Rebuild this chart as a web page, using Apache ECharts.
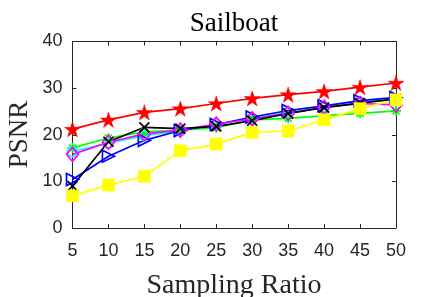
<!DOCTYPE html>
<html>
<head>
<meta charset="utf-8">
<script src="https://cdn.jsdelivr.net/npm/echarts@6/dist/echarts.min.js"></script>
<style>
html,body{margin:0;padding:0;background:#fff;}
#chart{width:438px;height:297px;}
</style>
</head>
<body>
<div id="chart"></div>
<script>
var samplingRatio = [5, 10, 15, 20, 25, 30, 35, 40, 45, 50];
var yTicks = [0, 10, 20, 30, 40];
var greenStar   = [17.2, 19.3, 20.6, 21.0, 21.5, 23.2, 23.5, 24.1, 24.6, 25.1];
var cyanCircle  = [16.4, 18.2, 19.8, 20.9, 22.2, 23.5, 24.8, 26.0, 27.0, 27.6];
var blueTri     = [10.4, 15.4, 18.8, 20.9, 22.2, 23.8, 25.2, 26.2, 27.3, 28.0];
var magDiamond  = [15.8, 18.4, 20.2, 21.0, 22.3, 23.4, 24.6, 25.9, 26.7, 26.4];
var blackX      = [9.0, 18.5, 21.6, 21.3, 21.8, 23.0, 24.6, 25.8, 26.8, 27.7];
var yellowSq    = [6.9, 9.2, 11.1, 16.6, 18.0, 20.5, 20.8, 23.2, 25.6, 27.5];
var redPentagram= [21.2, 23.2, 24.8, 25.6, 26.7, 27.8, 28.6, 29.3, 30.2, 31.1];
var titleText = 'Sailboat';
var xLabelText = 'Sampling Ratio';
var yLabelText = 'PSNR';

function pairs(arr){ return arr.map(function(v,i){ return [samplingRatio[i], v]; }); }

var STAR = 'path://M50,0 L61.23,34.55 L97.55,34.55 L68.17,55.9 L79.39,90.45 L50,69.1 L20.61,90.45 L31.83,55.9 L2.45,34.55 L38.77,34.55 Z';
var XMARK = 'path://M0,0L10,10M10,0L0,10';
var ASTER = 'path://M5,0L5,10M0,5L10,5M1.5,1.5L8.5,8.5M8.5,1.5L1.5,8.5';
var RTRI = 'path://M0,0L10,5L0,10Z';

function mk(name, data, color, symbol, size, filled){
  return {
    name: name, type: 'line', data: pairs(data),
    xAxisIndex: 0, yAxisIndex: 0,
    symbol: symbol, symbolSize: size, symbolKeepAspect: true,
    showAllSymbol: true, animation: false,
    lineStyle: {color: color, width: 1.7},
    itemStyle: filled ? {color: color, borderColor: color, borderWidth: 0.5}
                      : {color: 'rgba(0,0,0,0)', borderColor: color, borderWidth: 1.7},
    emphasis: {disabled: true}
  };
}

var axisCol = '#262626';
var labelFont = {fontFamily: 'Liberation Sans', fontSize: 18, color: axisCol};
var gridPos = {left: 72.5, right: 42, top: 41.5, bottom: 69};

var chart = echarts.init(document.getElementById('chart'), null, {renderer: 'canvas'});
chart.setOption({
  backgroundColor: '#ffffff',
  animation: false,
  grid: gridPos,
  xAxis: [{
    type: 'value', min: 5, max: 50, interval: 5, position: 'bottom',
    axisLine: {show: true, lineStyle: {color: axisCol, width: 1}},
    axisTick: {show: true, inside: true, length: 4, lineStyle: {color: axisCol}},
    axisLabel: Object.assign({margin: 14}, labelFont),
    splitLine: {show: false}
  },{
    type: 'value', min: 5, max: 50, interval: 5, position: 'top',
    axisLine: {show: true, onZero: false, lineStyle: {color: axisCol, width: 1}},
    axisTick: {show: true, inside: true, length: 4, lineStyle: {color: axisCol}},
    axisLabel: {show: false}, splitLine: {show: false}
  }],
  yAxis: [{
    type: 'value', min: 0, max: 40, interval: 10, position: 'left',
    axisLine: {show: true, lineStyle: {color: axisCol, width: 1}},
    axisTick: {show: true, inside: true, length: 4, lineStyle: {color: axisCol}},
    axisLabel: Object.assign({margin: 10, formatter: function(v){ return yTicks.indexOf(v) >= 0 ? String(v) : ''; }}, labelFont),
    splitLine: {show: false}
  },{
    type: 'value', min: 0, max: 40, interval: 10, position: 'right',
    axisLine: {show: true, onZero: false, lineStyle: {color: axisCol, width: 1}},
    axisTick: {show: true, inside: true, length: 4, lineStyle: {color: axisCol}},
    axisLabel: {show: false}, splitLine: {show: false}
  }],
  graphic: [
    {type: 'text', x: 234, y: 24, style: {text: titleText, font: '27px "Liberation Serif"', fill: '#000', align: 'center', verticalAlign: 'middle'}},
    {type: 'text', x: 234, y: 285.5, style: {text: xLabelText, font: '28px "Liberation Serif"', fill: '#262626', align: 'center', verticalAlign: 'middle'}},
    {type: 'text', x: 20, y: 134.5, rotation: Math.PI/2, style: {text: yLabelText, font: '27px "Liberation Serif"', fill: '#262626', align: 'center', verticalAlign: 'middle'}}
  ],
  series: [
    mk('green', greenStar, '#00ff00', ASTER, 10, false),
    mk('cyan', cyanCircle, '#00ffff', 'circle', 10, false),
    mk('blue', blueTri, '#0000ff', RTRI, 12, false),
    mk('magenta', magDiamond, '#ff00ff', 'diamond', [12,14], false),
    mk('black', blackX, '#000000', XMARK, 10, false),
    mk('yellow', yellowSq, '#ffff00', 'rect', 12, true),
    mk('red', redPentagram, '#ff0000', STAR, 16, true)
  ]
});
</script>
</body>
</html>
